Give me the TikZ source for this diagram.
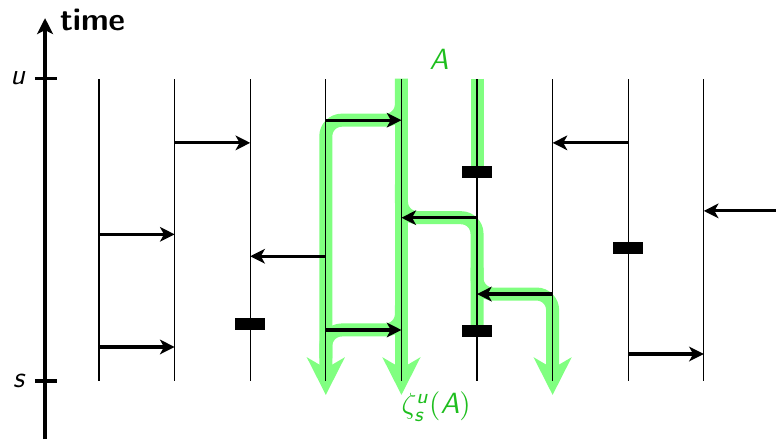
\documentclass[tikz,border=0pt]{standalone}
\definecolor{dualgreen}{RGB}{128,255,128}
\definecolor{labelgreen}{RGB}{30,190,30}
\usepackage{amsmath,amssymb}
\usepackage{tikz}
\usetikzlibrary{arrows.meta}
\newcommand{\sfit}[1]{\textsf{\slshape #1}}

\begin{document}
\begin{tikzpicture}[font=\sffamily\fontsize{11}{13}\selectfont,
    wire/.style={line width=0.4pt},
    jump/.style={line width=1.2pt, -{Stealth[length=5.5pt,width=5.5pt,inset=1.5pt]}},
    dual/.style={dualgreen, line width=4.9pt, rounded corners=6pt},
    dualtip/.style={dual, -{Stealth[length=14pt,width=14pt,inset=4pt]}},
    death/.style={fill=black, minimum width=0.4cm, minimum height=0.16cm, inner sep=0pt}]
        \useasboundingbox (-0.31,-0.77) rectangle (9.955,5.04);

        % Dual paths (backwards in time)
        \draw[dualtip] (5,4) -- (5,-0.185);
        \draw[dualtip] (5,4) -- (5,3.45) -- (4,3.45) -- (4,-0.185);
        \draw[dual] (6,4) -- (6,2.76);
        \draw[dual] (5,2.6) -- (5,2.16) -- (6,2.16) -- (6,0.66);
        \draw[dualtip] (6,1.5) -- (6,1.15) -- (7,1.15) -- (7,-0.185);
        \draw[dual] (5,1.0) -- (5,0.675) -- (4,0.675) -- (4,0.3);

        % Time axis
        \draw[line width=1.2pt, -{Stealth[length=6pt,width=6pt,inset=1.5pt]}] (0.286,-0.77) -- (0.286,4.8);
        \node (timelbl) [anchor=west, font=\sffamily\bfseries\fontsize{12}{14}\selectfont] at (0.36,4.78) {time};
        \draw[line width=1.2pt] (0.153,4) -- (0.444,4);
        \draw[line width=1.2pt] (0.153,0) -- (0.444,0);
        \node (ulbl) [left] at (0.153,4) {\sfit{u}};
        \node (slbl) [left] at (0.153,0) {\sfit{s}};

        % Sites
        \foreach \i in {1,...,9} {
          \draw[wire] (\i,0) -- (\i,4);
        }

        % Arrows
        \foreach \a/\b/\t in {2/3/3.15, 4/5/3.45, 8/7/3.15, 10/9/2.25, 6/5/2.16, 1/2/1.94,
                              4/3/1.65, 7/6/1.15, 4/5/0.675, 1/2/0.45, 8/9/0.357} {
          \draw[jump] (\a,\t) -- (\b,\t);
        }

        % Deaths
        \foreach \x/\t [count=\k] in {6/2.76, 3/0.754, 8/1.76, 6/0.66} {
          \node[death] (death\k) at (\x,\t) {};
        }

        \node (Alabel) [labelgreen] at (5.497,4.26) {\sfit{A}};
        \node (zetalabel) [labelgreen] at (5.46,-0.34) {$\zeta_{\text{\sfit{s}}}^{\text{\sfit{u}}}(\text{\sfit{A}})$};
      \end{tikzpicture}
\end{document}
